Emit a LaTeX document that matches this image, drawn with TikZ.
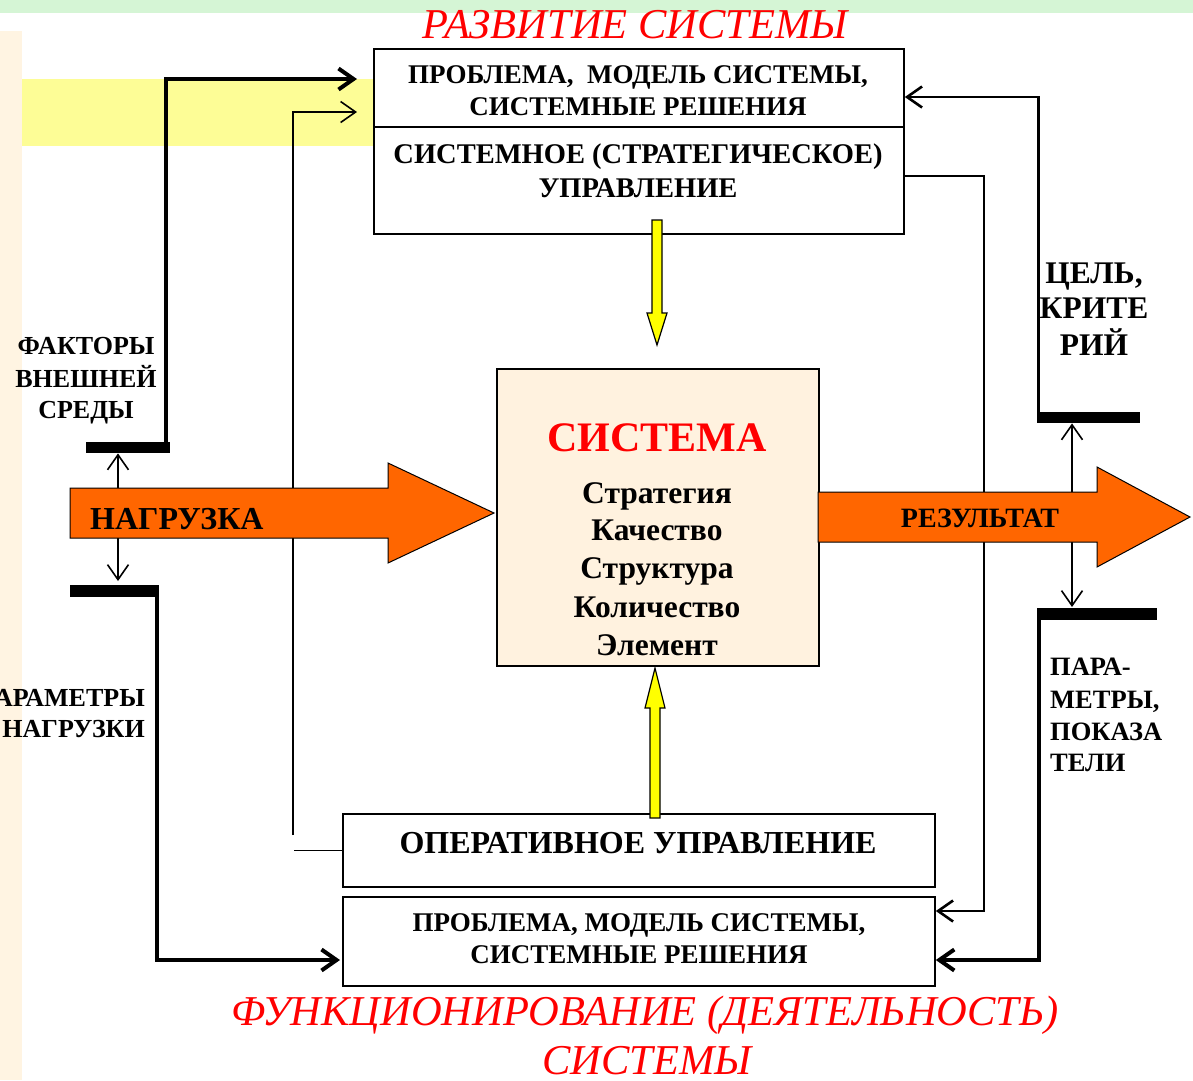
\documentclass[tikz,border=0pt]{standalone}
\usepackage{fontspec}
\setmainfont{Liberation Serif}
\usetikzlibrary{arrows.meta}
\definecolor{orng}{HTML}{FF6600}
\definecolor{beige}{HTML}{FFF4E2}
\definecolor{sysfill}{HTML}{FFF2DF}
\definecolor{lyellow}{HTML}{FDFD96}
\definecolor{lgreen}{HTML}{D5F5D5}
\definecolor{yel}{HTML}{FFFF00}
\definecolor{rd}{HTML}{FF0000}
\tikzset{
  boxst/.style={draw, line width=1.8pt, inner sep=0, anchor=north west},
  barst/.style={fill=black, inner sep=0, anchor=north west},
  thk/.style={line width=4pt},
  med/.style={line width=2.6pt},
  thn/.style={line width=1.6pt},
  arr/.style={-{Straight Barb[length=15pt,width=21pt]}},
  lbl/.style={inner sep=0, anchor=base},
  blk/.style={fill=orng, draw=black, line width=1pt},
  yarr/.style={fill=yel, draw=black, line width=1.2pt},
}
\newcommand\fsz[1]{\fontsize{#1}{#1}\selectfont}
\begin{document}
\begin{tikzpicture}[x=1pt,y=-1pt]
\useasboundingbox (0,0) rectangle (1193,1080);
\clip (0,0) rectangle (1193,1080);
\fill[white] (0,0) rectangle (1193,1080);
% background bands
\fill[lgreen] (0,0) rectangle (1193,13);
\fill[beige] (0,31) rectangle (22,1080);
\fill[lyellow] (22,79) rectangle (373,146);

% boxes
\node[boxst, minimum width=530pt, minimum height=185pt] (top) at (373,48) {};
\draw[line width=1.8pt] ([yshift=-79pt]top.north west) -- ([yshift=-79pt]top.north east);
\node[boxst, fill=sysfill, minimum width=322pt, minimum height=297pt] (sys) at (496,368) {};
\node[boxst, minimum width=592pt, minimum height=73pt] (oper) at (342,813) {};
\node[boxst, minimum width=592pt, minimum height=89pt] (bot) at (342,896) {};

% bars
\node[barst, minimum width=84pt, minimum height=11pt] (barA) at (86,442) {};
\node[barst, minimum width=89pt, minimum height=12pt] (barB) at (70,585) {};
\node[barst, minimum width=103pt, minimum height=11pt] (barC) at (1037,412) {};
\node[barst, minimum width=120pt, minimum height=12pt] (barD) at (1037,608) {};

% connectors left
\draw[thk, arr, shorten >=16pt] ([xshift=-4pt]barA.north east) |- ([yshift=-31pt]top.north west);
\coordinate (tv) at (293,835);
\draw[thn, arr, shorten >=16pt] (tv) |- ([yshift=-64pt]top.north west);
\draw[thn] (oper.west) -- ++(-48,0) coordinate (th);
\draw[thk, arr, shorten >=2pt] ([xshift=-2pt]barB.north east) |- ([yshift=-64pt]bot.north west);

% connectors right
\draw[med, arr] ([xshift=1.5pt]barC.north west) |- ([yshift=-49pt]top.north east);
\draw[med, arr] ([yshift=-128pt]top.north east) -- ++(79,0) coordinate (rv) |- ([yshift=-15pt]bot.north east);
\draw[thk, arr] ([xshift=2pt]barD.north west) |- ([yshift=-64pt]bot.north east);

% small arrows to bars
\coordinate (nT) at (118,488);
\coordinate (nB) at (118,537);
\coordinate (rT) at (1072,492);
\coordinate (rB) at (1072,542);
\draw[thn, arr] (nT) -- (barA.south -| nT);
\draw[thn, arr, shorten >=4pt] (nB) -- (barB.north -| nB);
\draw[thn, arr] (rT) -- (barC.south -| rT);
\draw[thn, arr, shorten >=1pt] (rB) -- (barD.north -| rB);

% block arrows
\draw[blk] (70,488) -- (388,488) -- (388,463) -- (494,513) -- (388,563) -- (388,538) -- (70,538) -- cycle;
\draw[blk] (818,492) -- (1097,492) -- (1097,467) -- (1190,517) -- (1097,567) -- (1097,542) -- (818,542) -- cycle;

% yellow arrows
\draw[yarr] (652,220) -- (662,220) -- (662,313) -- (667,313) -- (657,345) -- (647,313) -- (652,313) -- cycle;
\draw[yarr] (650,818) -- (660,818) -- (660,708) -- (665,708) -- (655,668) -- (645,708) -- (650,708) -- cycle;

% texts
\node[lbl, text=rd, font=\itshape\fsz{42.5}] (tDev) at (635,38) {РАЗВИТИЕ СИСТЕМЫ};
\node[lbl, font=\bfseries\fsz{27}] (t1) at (638,83) {ПРОБЛЕМА,\ \ МОДЕЛЬ СИСТЕМЫ,};
\node[lbl, font=\bfseries\fsz{27}] (t2) at (638,115) {СИСТЕМНЫЕ РЕШЕНИЯ};
\node[lbl, font=\bfseries\fsz{28.5}] (t3) at (638,163) {СИСТЕМНОЕ (СТРАТЕГИЧЕСКОЕ)};
\node[lbl, font=\bfseries\fsz{28.5}] (t4) at (638,197) {УПРАВЛЕНИЕ};

\node[lbl, text=rd, font=\bfseries\fsz{42}] (sT) at (657,451) {СИСТЕМА};
\node[lbl, font=\bfseries\fsz{31.5}] (s1) at (657,503) {Стратегия};
\node[lbl, font=\bfseries\fsz{31.5}] (s2) at (657,540) {Качество};
\node[lbl, font=\bfseries\fsz{31.5}] (s3) at (657,578) {Структура};
\node[lbl, font=\bfseries\fsz{31.5}] (s4) at (657,617) {Количество};
\node[lbl, font=\bfseries\fsz{31.5}] (s5) at (657,655) {Элемент};

\node[lbl, font=\bfseries\fsz{32}] (o1) at (638,853) {ОПЕРАТИВНОЕ УПРАВЛЕНИЕ};
\node[lbl, font=\bfseries\fsz{27}] (b1) at (639,931) {ПРОБЛЕМА, МОДЕЛЬ СИСТЕМЫ,};
\node[lbl, font=\bfseries\fsz{27}] (b2) at (639,963) {СИСТЕМНЫЕ РЕШЕНИЯ};
\node[lbl, text=rd, font=\itshape\fsz{42.5}] (f1) at (645,1025) {ФУНКЦИОНИРОВАНИЕ (ДЕЯТЕЛЬНОСТЬ)};
\node[lbl, text=rd, font=\itshape\fsz{42.5}] (f2) at (647,1074) {СИСТЕМЫ};

\node[lbl, anchor=base west, font=\bfseries\fsz{32}] (nag) at (90,529) {НАГРУЗКА};
\node[lbl, font=\bfseries\fsz{28}] (res) at (980,527) {РЕЗУЛЬТАТ};

\node[lbl, font=\bfseries\fsz{26}] (fa1) at (86,354) {ФАКТОРЫ};
\node[lbl, font=\bfseries\fsz{26}] (fa2) at (86,387) {ВНЕШНЕЙ};
\node[lbl, font=\bfseries\fsz{26}] (fa3) at (86,418) {СРЕДЫ};

\node[lbl, anchor=base east, font=\bfseries\fsz{26}] (pn1) at (145,706) {ПАРАМЕТРЫ};
\node[lbl, anchor=base east, font=\bfseries\fsz{26}] (pn2) at (145,737) {НАГРУЗКИ};

\node[lbl, font=\bfseries\fsz{31.5}] (c1) at (1094,283) {ЦЕЛЬ,};
\node[lbl, font=\bfseries\fsz{31.5}] (c2) at (1094,318) {КРИТЕ};
\node[lbl, font=\bfseries\fsz{31.5}] (c3) at (1094,355) {РИЙ};

\node[lbl, anchor=base west, font=\bfseries\fsz{26.5}] (p1) at (1050,675) {ПАРА-};
\node[lbl, anchor=base west, font=\bfseries\fsz{26.5}] (p2) at (1050,708) {МЕТРЫ,};
\node[lbl, anchor=base west, font=\bfseries\fsz{26.5}] (p3) at (1050,740) {ПОКАЗА};
\node[lbl, anchor=base west, font=\bfseries\fsz{26.5}] (p4) at (1050,771) {ТЕЛИ};
\end{tikzpicture}
\end{document}
